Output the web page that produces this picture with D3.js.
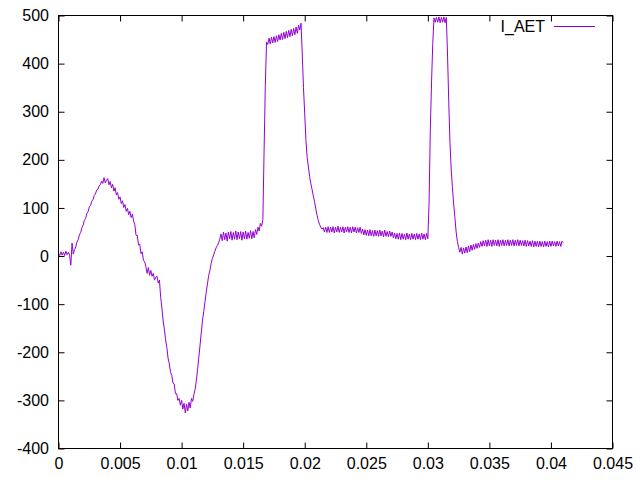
<!DOCTYPE html>
<html>
<head>
<meta charset="utf-8">
<script src="https://cdn.jsdelivr.net/npm/d3@7"></script>
<style>
  html, body { margin: 0; padding: 0; background: #fff; }
  svg { display: block; }
  text { font-family: "Liberation Sans", Arial, sans-serif; }
</style>
</head>
<body>
<svg id="chart" width="640" height="480"></svg>
<script>
// ---- data ----
const seriesName = "I_AET";
const sampleStep = 0.0001;   // sampling interval (s), first sample at t = 0
const iAET = [
  5, 1, 9, 2, 8, 1, 10, 3, 8, 2,
  -19, 27, 4, 13, 19, 29, 34, 44, 49, 59,
  64, 74, 78, 88, 92, 102, 105, 114, 117, 126,
  129, 137, 139, 146, 148, 156, 151, 163, 152, 158,
  161, 148, 155, 142, 149, 135, 142, 127, 132, 118,
  123, 109, 115, 101, 107, 93, 99, 86, 93, 80,
  87, 73, 65, 43, 43, 23, 25, 5, 9, -9,
  -12, -22, -36, -24, -40, -30, -42, -36, -50, -44,
  -42, -56, -50, -86, -108, -135, -152, -174, -190, -212,
  -224, -242, -248, -264, -266, -286, -286, -300, -296, -310,
  -300, -318, -306, -326, -308, -322, -304, -316, -296, -302,
  -288, -277, -258, -235, -210, -185, -158, -133, -115, -95,
  -75, -58, -40, -30, -15, -5, 2, 10, 17, 22,
  27, 35, 46, 32, 50, 34, 48, 31, 50, 36,
  51, 33, 49, 35, 52, 34, 50, 36, 51, 33,
  50, 36, 52, 35, 49, 37, 53, 36, 51, 38,
  55, 45, 60, 52, 68, 62, 76, 220, 355, 445,
  440, 453, 441, 455, 443, 456, 444, 458, 446, 460,
  449, 463, 450, 465, 452, 467, 454, 469, 456, 471,
  458, 473, 460, 476, 463, 480, 470, 484, 420, 350,
  295, 240, 205, 185, 165, 150, 138, 125, 113, 98,
  85, 74, 66, 60, 56, 59, 50, 60, 49, 61,
  49, 60, 50, 61, 48, 60, 50, 62, 49, 60,
  50, 61, 48, 60, 50, 61, 49, 60, 48, 61,
  50, 60, 48, 59, 49, 60, 47, 56, 44, 55,
  43, 54, 42, 55, 42, 53, 41, 54, 42, 53,
  41, 54, 42, 52, 40, 54, 41, 51, 40, 52,
  41, 50, 38, 48, 36, 47, 35, 48, 34, 47,
  35, 46, 34, 48, 35, 46, 34, 47, 35, 46,
  34, 47, 35, 46, 34, 48, 35, 46, 34, 47,
  36, 110, 260, 360, 442, 495, 486, 496, 486, 497,
  485, 496, 486, 497, 485, 496, 420, 320, 234, 179,
  142, 108, 80, 50, 30, 18, 8, 18, 4, 17,
  6, 19, 7, 21, 9, 23, 12, 24, 14, 26,
  16, 27, 18, 30, 20, 32, 21, 33, 20, 34,
  21, 33, 20, 34, 22, 33, 21, 34, 20, 33,
  22, 34, 21, 33, 22, 34, 21, 33, 22, 34,
  21, 33, 22, 34, 21, 33, 22, 32, 21, 33,
  20, 32, 21, 31, 20, 32, 19, 31, 20, 31,
  19, 31, 20, 30, 19, 31, 20, 30, 19, 31,
  20, 31, 21, 30, 20, 31, 21, 30, 20, 31,
  28
];
const xTicks = [0, 0.005, 0.01, 0.015, 0.02, 0.025, 0.03, 0.035, 0.04, 0.045];
const xTickLabels = ["0", "0.005", "0.01", "0.015", "0.02", "0.025", "0.03", "0.035", "0.04", "0.045"];
const yTicks = [-400, -300, -200, -100, 0, 100, 200, 300, 400, 500];
const yTickLabels = ["-400", "-300", "-200", "-100", "0", "100", "200", "300", "400", "500"];

// ---- layout ----
const L = 58.5, R = 612.5, T = 15.5, B = 448.5;
const lineColor = "#9400d3";
const fontSize = 16;

const svg = d3.select("#chart");
const x = d3.scaleLinear().domain([0, 0.045]).range([L, R]);
const y = d3.scaleLinear().domain([-400, 500]).range([B, T]);

const points = iAET.map((v, i) => [i * sampleStep, v]);

// clip
svg.append("defs").append("clipPath").attr("id", "clip")
  .append("rect").attr("x", L).attr("y", T).attr("width", R - L).attr("height", B - T);

// axes (inward ticks on all four sides)
const tick = 6;
const gB = svg.append("g").attr("transform", `translate(0,${B})`)
  .call(d3.axisBottom(x).tickValues(xTicks).tickSize(-tick).tickPadding(9)
    .tickFormat((d, i) => xTickLabels[i]));
const gT = svg.append("g").attr("transform", `translate(0,${T})`)
  .call(d3.axisTop(x).tickValues(xTicks).tickSize(-tick).tickFormat(() => ""));
const gL = svg.append("g").attr("transform", `translate(${L},0)`)
  .call(d3.axisLeft(y).tickValues(yTicks).tickSize(-tick).tickPadding(9.5)
    .tickFormat((d, i) => yTickLabels[i]));
const gR = svg.append("g").attr("transform", `translate(${R},0)`)
  .call(d3.axisRight(y).tickValues(yTicks).tickSize(-tick).tickFormat(() => ""));

[gB, gT, gL, gR].forEach(g => {
  g.select(".domain").remove();
  g.selectAll(".tick line").attr("stroke", "#000").attr("stroke-width", 1);
  g.selectAll(".tick text").attr("fill", "#000")
    .style("font-family", '"Liberation Sans", Arial, sans-serif')
    .style("font-size", fontSize + "px");
});
// remove tick marks exactly on frame corners are harmless; keep them

// data line
svg.append("path")
  .datum(points)
  .attr("clip-path", "url(#clip)")
  .attr("fill", "none")
  .attr("stroke", lineColor)
  .attr("stroke-width", 1)
  .attr("stroke-linejoin", "miter")
  .attr("d", d3.line().x(d => x(d[0])).y(d => y(d[1])));

// frame
svg.append("rect")
  .attr("x", L).attr("y", T).attr("width", R - L).attr("height", B - T)
  .attr("fill", "none").attr("stroke", "#000").attr("stroke-width", 1);

// legend
const legY = 26.5;
svg.append("text")
  .attr("x", 545).attr("y", legY).attr("dy", "0.35em")
  .attr("text-anchor", "end")
  .attr("fill", "#000")
  .style("font-size", fontSize + "px")
  .text(seriesName);
svg.append("line")
  .attr("x1", 554).attr("x2", 595).attr("y1", legY).attr("y2", legY)
  .attr("stroke", lineColor).attr("stroke-width", 1);
</script>
</body>
</html>
